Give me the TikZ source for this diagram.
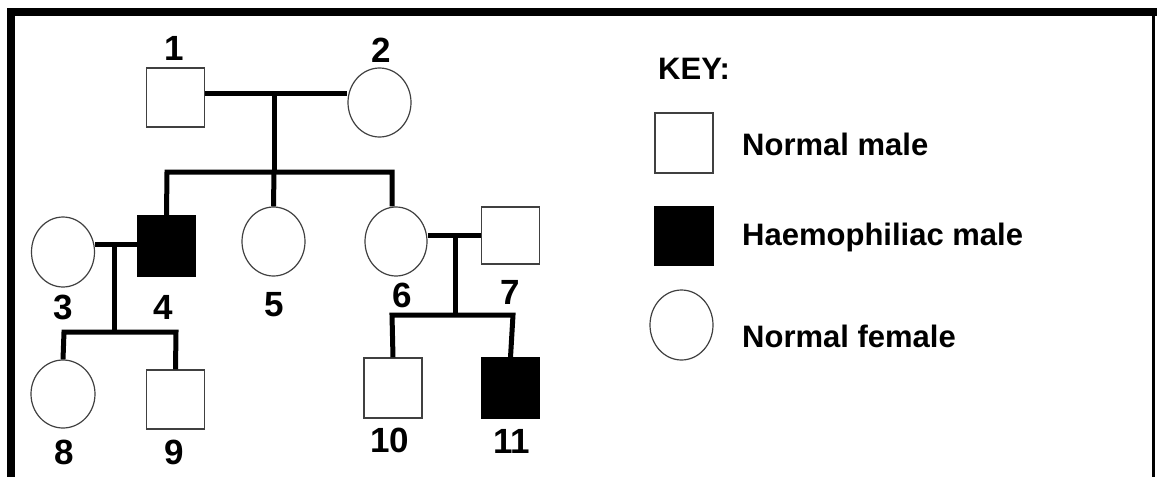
\documentclass[tikz,border=0pt]{standalone}
\usepackage{fontspec}
\setmainfont{Liberation Sans}
\usetikzlibrary{shapes.geometric}
\begin{document}
\begin{tikzpicture}[x=1pt,y=-1pt,
  male/.style={rectangle,draw=black!75,line width=1.2pt,fill=white,inner sep=0pt,minimum width=58pt,minimum height=59pt},
  affected/.style={male,fill=black,draw=black},
  female/.style={ellipse,draw=black!75,line width=1.2pt,fill=white,inner sep=0pt,minimum width=63pt,minimum height=69pt},
  pline/.style={line width=5pt,line join=miter,line cap=butt},
  num/.style={font=\fontsize{35}{35}\selectfont\bfseries,inner sep=0pt},
  keytext/.style={font=\fontsize{31}{31}\selectfont\bfseries,inner sep=0pt,anchor=base west}]
\useasboundingbox (0,0) rectangle (1157,477);
% frame
\fill[black] (7,8) rectangle (1157,16);
\fill[black] (7,8) rectangle (15,477);
\fill[black] (1152,8) rectangle (1155,477);
% individuals
\node[male] (n1) at (175.5,97.5) {};
\node[female] (n2) at (379.5,102.5) {};
\node[female,minimum height=70pt] (n3) at (63,252) {};
\node[affected,minimum height=60pt] (n4) at (166.5,246) {};
\node[female] (n5) at (273.5,241.5) {};
\node[female,minimum width=62pt] (n6) at (396,241.5) {};
\node[male,minimum height=57pt] (n7) at (510.5,235.5) {};
\node[female,minimum width=64pt,minimum height=68pt] (n8) at (63,394) {};
\node[male] (n9) at (175.5,399.5) {};
\node[male,minimum height=60pt] (n10) at (393,388) {};
\node[affected,minimum height=60pt] (n11) at (510.5,388) {};
% junction coordinates
\coordinate (m12) at (274,93);
\coordinate (s1) at (274,172);
\coordinate (s1L) at (167,172);
\coordinate (s1R) at (392,172);
\coordinate (m34) at (114,244);
\coordinate (s2) at (114,332);
\coordinate (s2L) at (64,332);
\coordinate (s2R) at (176,332);
\coordinate (m67) at (455,235);
\coordinate (s3) at (455,315);
\coordinate (s3L) at (392,315);
\coordinate (s3R) at (513,315);
% connectors
\draw[pline] (n1.east |- m12) -- (n2.west |- m12);
\draw[pline] (m12) -- (s1);
\draw[pline] (n4.north) -- (s1L) -- (s1R) -- (s1R |- n6.north);
\draw[pline] (s1) -- (n5.north);
\draw[pline] (n3.east |- m34) -- (n4.west |- m34);
\draw[pline] (m34) -- (s2);
\draw[pline] (n8.north) -- (s2L) -- (s2R) -- (n9.north);
\draw[pline] (n6.east |- m67) -- (n7.west |- m67);
\draw[pline] (m67) -- (s3);
\draw[pline] (n10.north) -- (s3L) -- (s3R) -- (n11.north);
% labels
\node[num] (l1) at (174,48.5) {1};
\node[num] (l2) at (381,50) {2};
\node[num] (l3) at (63,307.5) {3};
\node[num] (l4) at (163,307) {4};
\node[num] (l5) at (274,305) {5};
\node[num] (l6) at (402,295) {6};
\node[num] (l7) at (510,292) {7};
\node[num] (l8) at (64.5,452.5) {8};
\node[num] (l9) at (174.5,452) {9};
\node[num] (l10) at (390,440) {10};
\node[num] (l11) at (511.5,441) {11};
% key
\node[keytext] (key) at (658,79) {KEY:};
\node[male,minimum width=58pt,minimum height=60pt] (k1) at (684,143) {};
\node[affected,minimum width=58pt,minimum height=58pt] (k2) at (684,236) {};
\node[female,minimum width=63pt,minimum height=70pt] (k3) at (681.5,325) {};
\node[keytext] (t1) at (742,155) {Normal male};
\node[keytext] (t2) at (742,245) {Haemophiliac male};
\node[keytext] (t3) at (742,347) {Normal female};
\end{tikzpicture}
\end{document}
